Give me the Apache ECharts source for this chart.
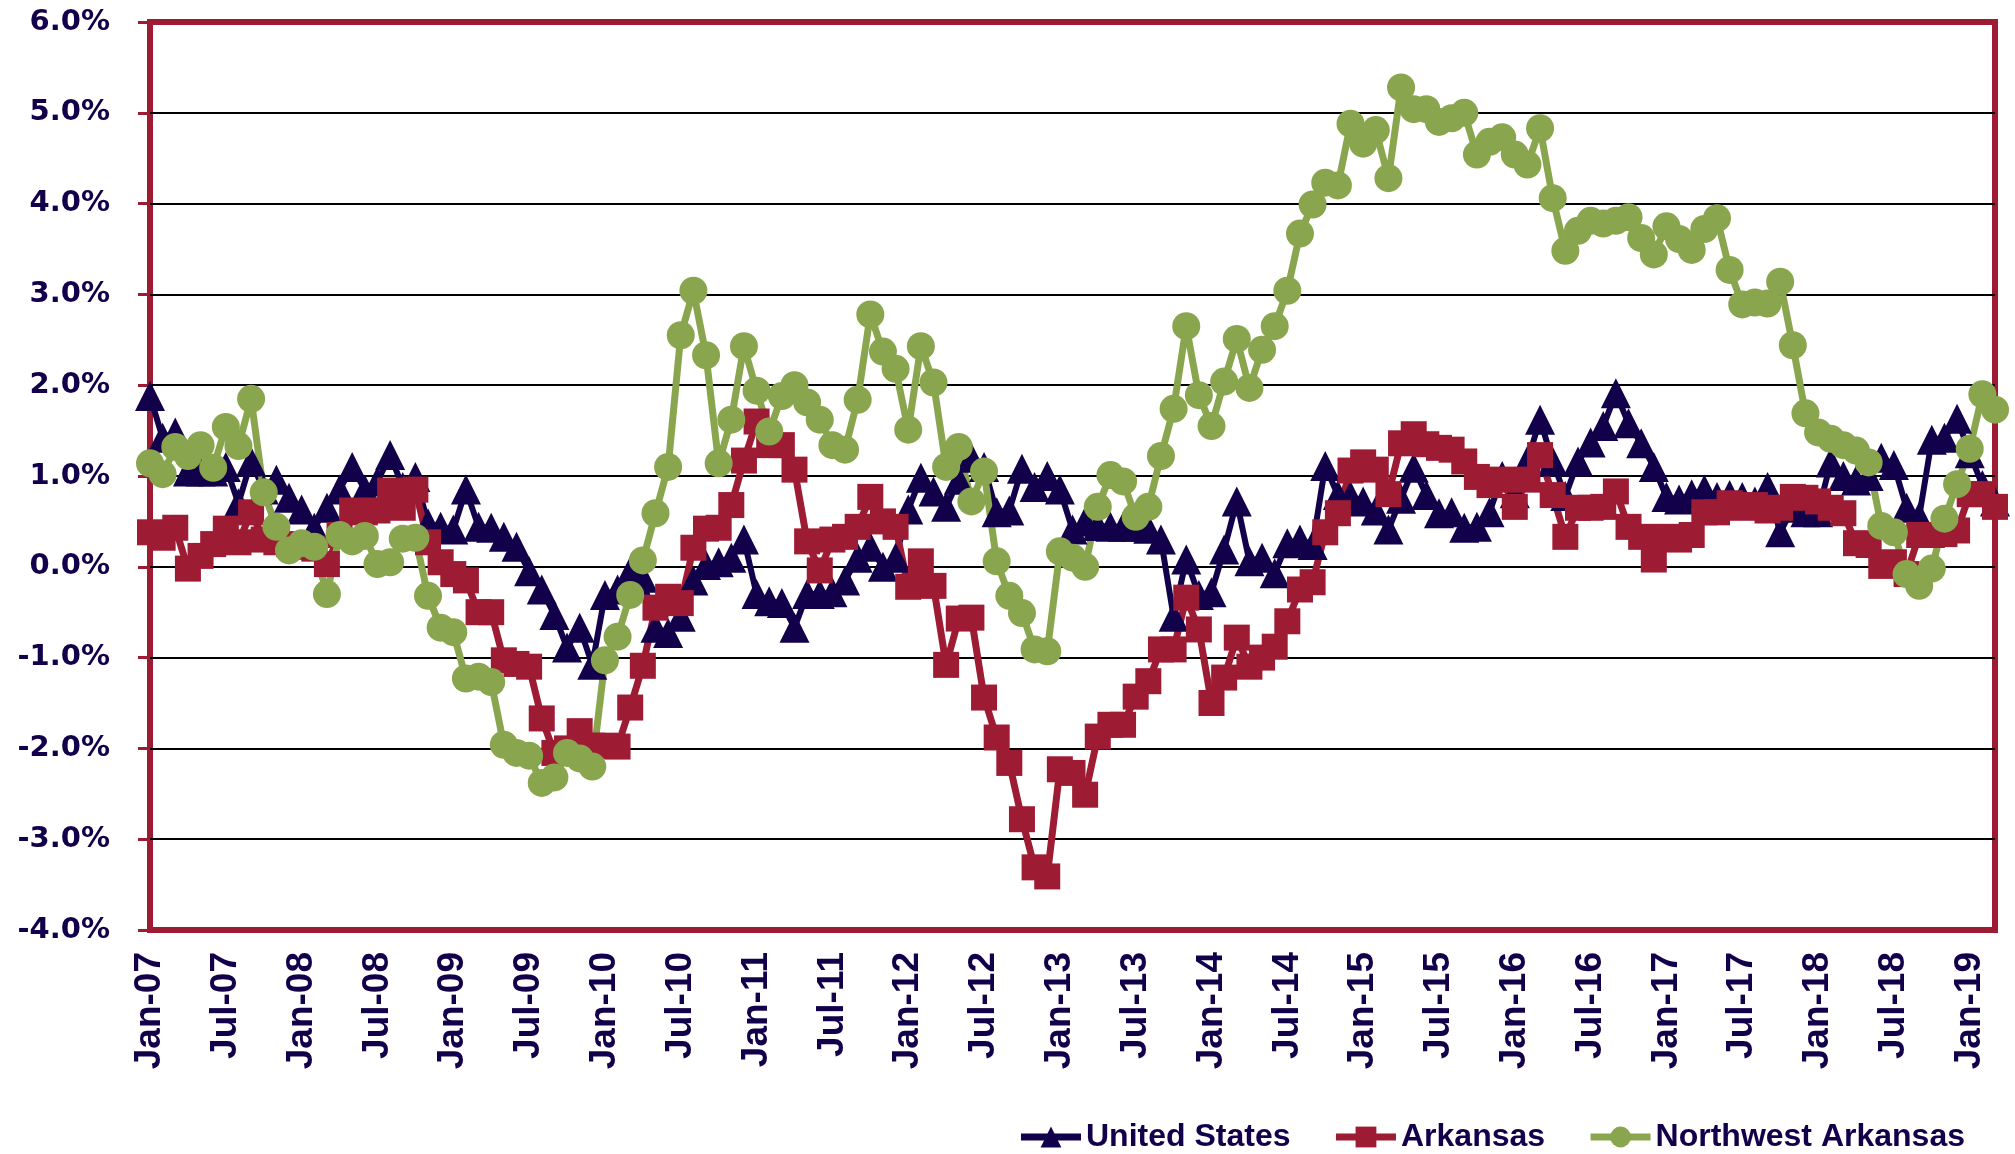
<!DOCTYPE html>
<html>
<head>
<meta charset="utf-8">
<script src="https://cdn.jsdelivr.net/npm/echarts@6/dist/echarts.min.js"></script>
<style>
  html, body { margin: 0; padding: 0; background: #ffffff; }
  #chart { width: 2015px; height: 1154px; }
</style>
</head>
<body>
<div id="chart"></div>
<script>
// Monthly year-over-year employment growth, Jan-07 through Mar-19 (percent)
const monthNames = ['Jan', 'Feb', 'Mar', 'Apr', 'May', 'Jun', 'Jul', 'Aug', 'Sep', 'Oct', 'Nov', 'Dec'];
const years = ['07', '08', '09', '10', '11', '12', '13', '14', '15', '16', '17', '18', '19'];
const monthsInLastYear = 3;

const unitedStates = [
  1.88, 1.42, 1.48, 1.05, 1.05, 1.05, 1.10, 0.70, 1.16, 0.85,
  0.96, 0.76, 0.63, 0.43, 0.65, 0.85, 1.10, 0.85, 0.94, 1.23,
  0.88, 0.99, 0.48, 0.44, 0.41, 0.85, 0.44, 0.43, 0.33, 0.22,
  -0.05, -0.25, -0.53, -0.89, -0.67, -1.08, -0.31, -0.25, -0.05, -0.12,
  -0.67, -0.73, -0.55, -0.15, 0.02, 0.05, 0.10, 0.30, -0.30, -0.38,
  -0.40, -0.67, -0.30, -0.30, -0.28, -0.15, 0.10, 0.22, 0.00, 0.10,
  0.63, 0.98, 0.83, 0.66, 0.96, 1.20, 1.10, 0.60, 0.62, 1.08,
  0.88, 1.00, 0.85, 0.41, 0.50, 0.45, 0.44, 0.44, 0.44, 0.42,
  0.30, -0.55, 0.08, -0.31, -0.28, 0.19, 0.72, 0.06, 0.10, -0.07,
  0.26, 0.30, 0.24, 1.11, 0.79, 0.78, 0.72, 0.62, 0.41, 0.75,
  1.09, 0.79, 0.59, 0.60, 0.43, 0.44, 0.60, 1.00, 0.81, 1.17,
  1.62, 1.16, 0.78, 1.16, 1.37, 1.55, 1.91, 1.58, 1.36, 1.10,
  0.77, 0.74, 0.80, 0.85, 0.77, 0.79, 0.77, 0.72, 0.88, 0.38,
  0.65, 0.60, 0.60, 1.15, 1.00, 0.95, 1.00, 1.20, 1.12, 0.65,
  0.55, 1.40, 1.42, 1.63, 1.25, 0.90, 0.72
];

const arkansas = [
  0.38, 0.32, 0.43, -0.02, 0.12, 0.25, 0.42, 0.27, 0.60, 0.30,
  0.27, 0.25, 0.22, 0.20, 0.03, 0.35, 0.62, 0.60, 0.62, 0.84,
  0.65, 0.85, 0.27, 0.05, -0.08, -0.15, -0.50, -0.50, -1.03, -1.07,
  -1.10, -1.67, -2.05, -2.00, -1.81, -1.97, -1.97, -1.98, -1.55, -1.09,
  -0.45, -0.33, -0.40, 0.21, 0.42, 0.43, 0.68, 1.17, 1.60, 1.34,
  1.34, 1.07, 0.28, -0.04, 0.30, 0.33, 0.44, 0.77, 0.50, 0.44,
  -0.22, 0.06, -0.21, -1.08, -0.57, -0.56, -1.44, -1.88, -2.16, -2.78,
  -3.31, -3.41, -2.23, -2.27, -2.51, -1.87, -1.74, -1.74, -1.43, -1.26,
  -0.91, -0.91, -0.34, -0.69, -1.50, -1.22, -0.78, -1.10, -1.00, -0.88,
  -0.60, -0.25, -0.17, 0.38, 0.59, 1.06, 1.15, 1.07, 0.80, 1.36,
  1.46, 1.35, 1.31, 1.29, 1.16, 0.99, 0.90, 0.96, 0.66, 0.96,
  1.23, 0.79, 0.33, 0.65, 0.65, 0.66, 0.83, 0.44, 0.33, 0.08,
  0.33, 0.30, 0.35, 0.60, 0.60, 0.70, 0.65, 0.68, 0.62, 0.65,
  0.77, 0.76, 0.72, 0.65, 0.59, 0.26, 0.24, 0.01, 0.05, -0.08,
  0.35, 0.35, 0.36, 0.40, 0.80, 0.80, 0.66
];

const northwestArkansas = [
  1.14, 1.02, 1.32, 1.22, 1.34, 1.09, 1.54, 1.33, 1.85, 0.82,
  0.44, 0.18, 0.26, 0.22, -0.30, 0.35, 0.28, 0.34, 0.03, 0.05,
  0.31, 0.32, -0.32, -0.67, -0.72, -1.23, -1.21, -1.27, -1.96, -2.05,
  -2.08, -2.38, -2.32, -2.05, -2.11, -2.20, -1.03, -0.77, -0.31, 0.07,
  0.59, 1.10, 2.55, 3.04, 2.33, 1.14, 1.62, 2.43, 1.94, 1.49,
  1.88, 2.00, 1.81, 1.62, 1.34, 1.29, 1.84, 2.78, 2.37, 2.18,
  1.51, 2.43, 2.03, 1.10, 1.32, 0.72, 1.05, 0.06, -0.32, -0.51,
  -0.91, -0.93, 0.17, 0.10, 0.00, 0.66, 1.01, 0.94, 0.55, 0.66,
  1.22, 1.74, 2.65, 1.89, 1.55, 2.04, 2.51, 1.97, 2.39, 2.65,
  3.04, 3.67, 3.99, 4.23, 4.20, 4.88, 4.66, 4.81, 4.28, 5.28,
  5.04, 5.04, 4.90, 4.94, 5.00, 4.54, 4.68, 4.73, 4.54, 4.43,
  4.83, 4.06, 3.48, 3.70, 3.81, 3.78, 3.81, 3.85, 3.62, 3.44,
  3.75, 3.61, 3.49, 3.72, 3.84, 3.27, 2.89, 2.91, 2.90, 3.14,
  2.44, 1.69, 1.48, 1.41, 1.34, 1.28, 1.15, 0.45, 0.38, -0.08,
  -0.21, -0.02, 0.53, 0.91, 1.30, 1.90, 1.73
];

const seriesNames = ['United States', 'Arkansas', 'Northwest Arkansas'];
const yAxisMin = -4, yAxisMax = 6, yAxisStep = 1;

// Category labels "Mon-YY"
const months = [];
years.forEach((yy, k) => {
  const count = k === years.length - 1 ? monthsInLastYear : 12;
  for (let m = 0; m < count; m++) months.push(monthNames[m] + '-' + yy);
});

const NAVY = '#12004b';
const CRIMSON = '#9e1b34';
const OLIVE = '#89a54e';

const chart = echarts.init(document.getElementById('chart'), null, { renderer: 'canvas' });

function lineSeries(name, data, color, symbol, size, width) {
  return {
    name: name,
    type: 'line',
    data: data,
    symbol: symbol,
    symbolSize: size,
    showAllSymbol: true,
    lineStyle: { color: color, width: width },
    itemStyle: { color: color, borderWidth: 0 },
    emphasis: { disabled: true }
  };
}

chart.setOption({
  animation: false,
  backgroundColor: '#ffffff',
  grid: {
    left: 150, right: 20, top: 22, bottom: 224,
    show: true,
    borderColor: CRIMSON,
    borderWidth: 6,
    backgroundColor: 'transparent'
  },
  xAxis: {
    type: 'category',
    data: months,
    boundaryGap: false,
    axisLine: { show: false },
    axisTick: { show: false },
    splitLine: { show: false },
    axisLabel: {
      interval: 5,
      rotate: 90,
      margin: 22,
      color: NAVY,
      fontFamily: 'Liberation Sans',
      fontWeight: 'bold',
      fontSize: 37
    }
  },
  yAxis: {
    type: 'value',
    min: yAxisMin,
    max: yAxisMax,
    interval: yAxisStep,
    axisLine: { show: false },
    axisTick: { show: true, length: 12, lineStyle: { color: CRIMSON, width: 3 } },
    splitLine: {
      show: true,
      showMinLine: false,
      showMaxLine: false,
      lineStyle: { color: '#000000', width: 2 }
    },
    axisLabel: {
      formatter: v => v.toFixed(1) + '%',
      margin: 40,
      color: NAVY,
      fontFamily: 'DejaVu Sans',
      fontWeight: 'bold',
      fontSize: 29
    }
  },
  legend: {
    data: seriesNames,
    right: 45,
    top: 1116,
    itemWidth: 60,
    itemHeight: 26,
    itemGap: 42,
    lineStyle: { width: 7 },
    textStyle: {
      color: NAVY,
      fontFamily: 'Liberation Sans',
      fontWeight: 'bold',
      fontSize: 32
    }
  },
  series: [
    lineSeries(seriesNames[0], unitedStates, NAVY, 'triangle', 30, 6),
    lineSeries(seriesNames[1], arkansas, CRIMSON, 'rect', 26, 7),
    lineSeries(seriesNames[2], northwestArkansas, OLIVE, 'circle', 28, 7)
  ]
});
</script>
</body>
</html>
